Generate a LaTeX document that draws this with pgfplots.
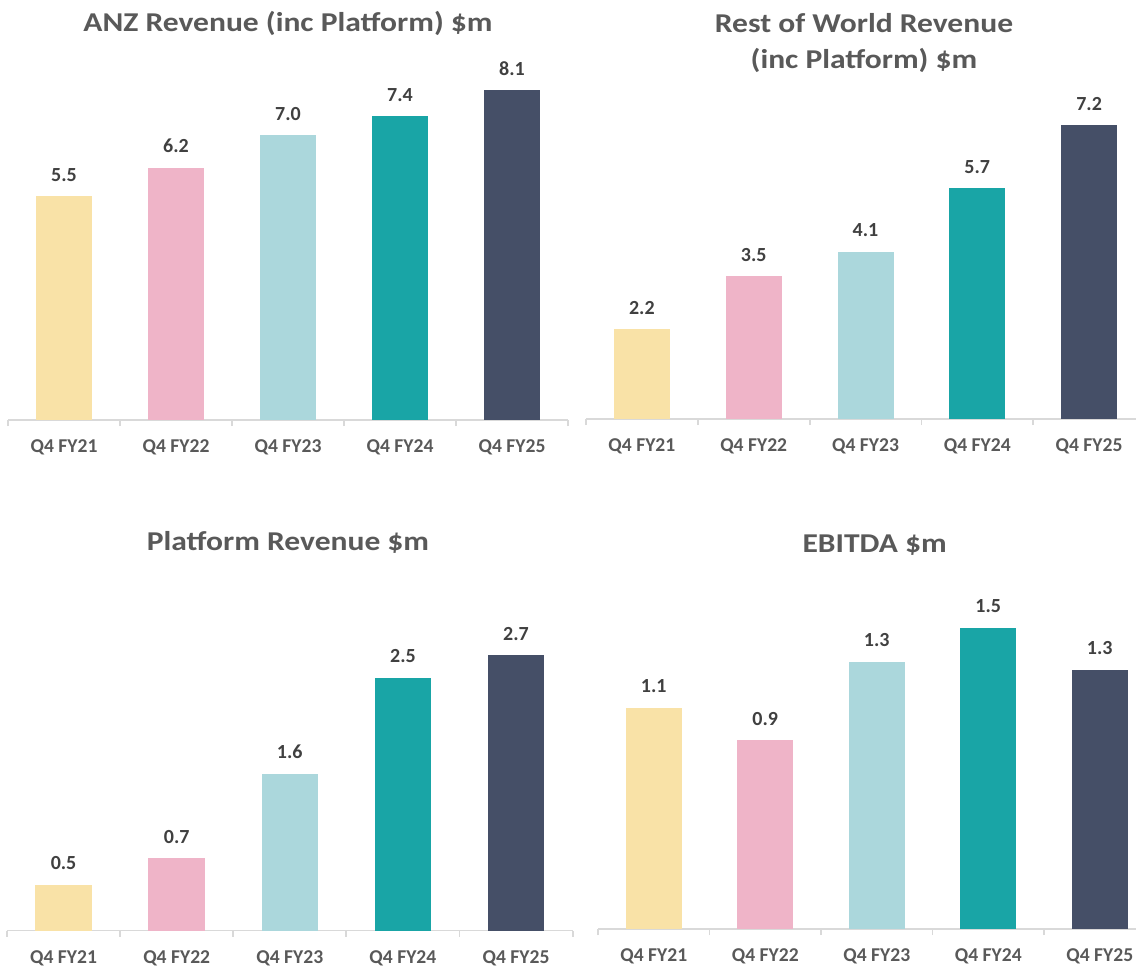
\documentclass[border=0pt]{standalone}
\usepackage{graphicx}
\usepackage{pgfplots}
\pgfplotsset{compat=1.18}
\usepackage{fontspec}
\setmainfont{Carlito}
\definecolor{cY}{HTML}{F9E2A7}
\definecolor{cP}{HTML}{EFB4C8}
\definecolor{cL}{HTML}{ABD7DC}
\definecolor{cT}{HTML}{19A5A6}
\definecolor{cN}{HTML}{454F67}
\definecolor{axgrey}{HTML}{D9D9D9}
\definecolor{tgrey}{HTML}{595959}
\definecolor{vgrey}{HTML}{404040}
\pgfplotsset{kpi/.style={
  scale only axis, xmin=-0.5, xmax=4.5, ymin=0,
  anchor=south west,
  axis y line=none, axis x line*=bottom,
  x axis line style={draw=axgrey, line width=0.9pt, -},
  xtick={0,1,2,3,4},
  xticklabels={Q4 FY21,Q4 FY22,Q4 FY23,Q4 FY24,Q4 FY25},
  major tick length=0pt,
  extra x ticks={-0.5,0.5,1.5,2.5,3.5,4.5}, extra x tick labels={},
  extra x tick style={major tick length=3pt, tick align=outside,
     tick style={draw=axgrey, line width=0.9pt}},
  xticklabel style={font=\bfseries\fontsize{9.8}{12}\selectfont, text=tgrey, anchor=base, yshift=-16.35pt},
  ybar, bar width=28pt, bar shift=0pt,
  nodes near coords, point meta=explicit symbolic,
  nodes near coords style={font=\bfseries\fontsize{10}{12}\selectfont, text=vgrey, anchor=base, inner sep=0pt, yshift=7.5pt},
  clip=false,
}}
\tikzset{ttl/.style={font=\bfseries\fontsize{13.6}{16}\selectfont, text=tgrey, anchor=base, inner sep=0pt}}
\newcommand\ttltext[1]{\scalebox{1.16}[1]{#1}}
\begin{document}
\begin{tikzpicture}
\useasboundingbox (0,0) rectangle (568pt,-484.5pt);
% Panel 1: ANZ Revenue
\begin{axis}[kpi, at={(4pt,-210pt)}, width=280pt, height=183.15pt, ymax=9]
\addplot[fill=cY, draw=none] coordinates {(0,5.5) [5.5]};
\addplot[fill=cP, draw=none] coordinates {(1,6.2) [6.2]};
\addplot[fill=cL, draw=none] coordinates {(2,7.0) [7.0]};
\addplot[fill=cT, draw=none] coordinates {(3,7.46) [7.4]};
\addplot[fill=cN, draw=none] coordinates {(4,8.1) [8.1]};
\end{axis}
% Panel 2: Rest of World Revenue
\begin{axis}[kpi, at={(293pt,-209.5pt)}, width=279.5pt, height=173.4pt, ymax=8.5]
\addplot[fill=cY, draw=none] coordinates {(0,2.2) [2.2]};
\addplot[fill=cP, draw=none] coordinates {(1,3.5) [3.5]};
\addplot[fill=cL, draw=none] coordinates {(2,4.1) [4.1]};
\addplot[fill=cT, draw=none] coordinates {(3,5.65) [5.7]};
\addplot[fill=cN, draw=none] coordinates {(4,7.2) [7.2]};
\end{axis}
% Panel 3: Platform Revenue
\begin{axis}[kpi, at={(3.5pt,-465.25pt)}, width=282.8pt, height=152.85pt, ymax=3, bar width=28.3pt]
\addplot[fill=cY, draw=none] coordinates {(0,0.45) [0.5]};
\addplot[fill=cP, draw=none] coordinates {(1,0.71) [0.7]};
\addplot[fill=cL, draw=none] coordinates {(2,1.54) [1.6]};
\addplot[fill=cT, draw=none] coordinates {(3,2.48) [2.5]};
\addplot[fill=cN, draw=none] coordinates {(4,2.70) [2.7]};
\end{axis}
% Panel 4: EBITDA
\begin{axis}[kpi, at={(299pt,-464.5pt)}, width=278.75pt, height=160.8pt, ymax=1.6]
\addplot[fill=cY, draw=none] coordinates {(0,1.10) [1.1]};
\addplot[fill=cP, draw=none] coordinates {(1,0.94) [0.9]};
\addplot[fill=cL, draw=none] coordinates {(2,1.33) [1.3]};
\addplot[fill=cT, draw=none] coordinates {(3,1.50) [1.5]};
\addplot[fill=cN, draw=none] coordinates {(4,1.29) [1.3]};
\end{axis}
\node[ttl] at (144pt,-16pt) {\ttltext{ANZ Revenue (inc Platform) \$m}};
\node[ttl] at (432pt,-16.15pt) {\ttltext{Rest of World Revenue}};
\node[ttl] at (432pt,-34.15pt) {\ttltext{(inc Platform) \$m}};
\node[ttl] at (144pt,-275pt) {\ttltext{Platform Revenue \$m}};
\node[ttl] at (437.3pt,-276.15pt) {\ttltext{EBITDA \$m}};
\end{tikzpicture}
\end{document}
